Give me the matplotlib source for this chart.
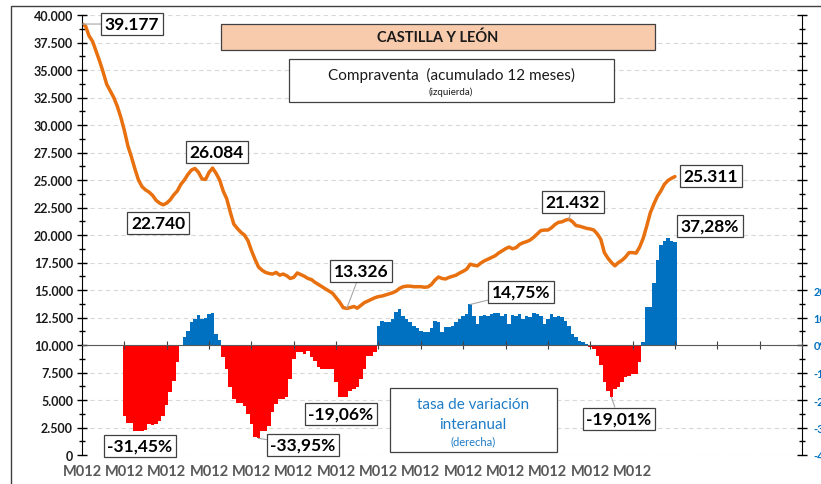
import numpy as np
import matplotlib
matplotlib.use("Agg")
import matplotlib.pyplot as plt
from matplotlib.patches import Rectangle

plt.rcParams['font.family'] = ['Lato', 'DejaVu Sans']

W, H = 821, 485

# compraventa acumulado 12 meses, un valor por mes
compraventa = [
    39177, 39000, 38100, 37600, 36700, 35800, 34800, 33700, 33100, 32500,
    31700, 30700, 29500, 28100, 27100, 26000, 25000, 24400, 24100, 23900,
    23600, 23150, 22900, 22740, 22900, 23200, 23650, 24000, 24600, 25000,
    25500, 25900, 26050, 25700, 25100, 25050, 25700, 26084, 25600, 25000,
    24000, 23300, 22100, 21000, 20600, 20250, 20000, 19500, 18600, 17800,
    17100, 16800, 16600, 16500, 16450, 16600, 16350, 16450, 16300, 16050,
    16150, 16550, 16400, 16250, 16050, 15950, 15700, 15500, 15300, 15100,
    14900, 14700, 14300, 13900, 13400, 13326, 13400, 13500, 13350, 13600,
    13850, 14000, 14150, 14300, 14400, 14450, 14550, 14650, 14750, 14900,
    15150, 15300, 15350, 15350, 15300, 15300, 15300, 15250, 15280, 15500,
    15900, 16180, 16050, 16000, 16150, 16250, 16350, 16550, 16700, 16900,
    17350, 17250, 17200, 17450, 17650, 17800, 17950, 18100, 18350, 18550,
    18750, 18900, 18750, 18850, 19150, 19300, 19400, 19550, 19800, 20100,
    20400, 20450, 20450, 20650, 20950, 21150, 21200, 21350, 21432, 21200,
    20850, 20800, 20700, 20600, 20550, 20450, 20100, 19600, 18400, 17900,
    17500, 17200, 17500, 17700, 18000, 18400, 18400, 18350, 18900, 19700,
    20800, 22000, 22800, 23500, 24000, 24600, 24950, 25150, 25311,
]

# tasa de variacion interanual (%), empieza en el mes 12
primer_mes_tasa = 12
tasa = [
    -25.7, -28.3, -28.3, -31.45, -31.3, -31.1, -30.9, -28.7, -29.1, -28.9,
    -27.6, -25.8, -21.7, -17.0, -13.0, -6.1, -0.4,
    2.8, 5.2, 8.2, 9.5, 10.9, 9.5, 10.0, 11.3, 11.6, 4.0, 1.9,
    -4.5, -8.7, -15.3, -19.6, -21.1, -21.1, -22.0, -25.1, -28.7, -33.6,
    -33.95, -31.2, -31.2, -29.3, -24.5, -21.5, -19.6, -19.6, -19.0, -12.4,
    -5.1, -2.4, -2.4, -3.3, -2.1, -4.5, -5.7, -8.1, -8.7, -8.7,
    -8.7, -8.7, -13.6, -19.06, -19.0, -18.8, -16.6, -16.0, -15.3, -12.4,
    -8.7, -3.9, -3.9, -2.7,
    7.0, 8.8, 8.5, 8.2, 9.5, 12.1, 13.1, 10.7, 9.5, 8.2,
    7.0, 6.1, 5.2, 4.8, 4.6, 6.1, 8.8, 8.2, 4.6, 6.4,
    6.4, 7.0, 8.2, 9.5, 10.7, 11.3, 14.75, 10.7, 7.6, 10.7,
    10.9, 10.7, 11.3, 11.6, 11.6, 10.7, 11.3, 7.6, 10.9, 10.7,
    11.3, 9.5, 10.7, 10.1, 11.6, 11.3, 10.7, 7.6, 9.5, 11.3,
    10.1, 10.7, 10.1, 8.8, 7.0, 4.0, 2.8, 1.6, 1.0, 0.4,
    -0.7, -1.5, -3.9, -7.3, -13.6, -16.6, -19.01, -16.0, -15.4, -13.5,
    -11.8, -11.2, -10.5, -10.5, -6.3,
    1.2, 13.7, 13.7, 22.5, 31.0, 36.4, 37.9, 38.9, 38.0, 37.28,
]

etiquetas_x = ['M012'] * 14
yticks_izq = list(range(0, 40001, 2500))
yticks_der = list(range(-40, 121, 10))

# etiquetas destacadas: texto, mes, centro de la caja (px desde arriba), linea guia
etq_linea = [
    ('39.177', 0, (132, 25), True),
    ('22.740', 23, (158, 224), False),
    ('26.084', 37, (217, 153), False),
    ('13.326', 75, (361, 272), True),
    ('21.432', 138, (573, 203), True),
    ('25.311', 168, (711, 177), False),
]
etq_barras = [
    ('14,75%', 110, (521, 293), True),
    ('37,28%', 168, (710, 227), False),
    ('-31,45%', 15, (140, 447), False),
    ('-33,95%', 50, (303, 446), True),
    ('-19,06%', 73, (341, 415), False),
    ('-19,01%', 150, (619, 420), True),
]

fig = plt.figure(figsize=(W / 100, H / 100), dpi=100)
ax = fig.add_axes([82 / W, 1 - 456 / H, (802 - 82) / W, (456 - 16) / H])
ax2 = ax.twinx()
ax.set_zorder(ax2.get_zorder() + 1)
ax.patch.set_visible(False)

meses = np.arange(len(compraventa))
meses_tasa = np.arange(primer_mes_tasa, primer_mes_tasa + len(tasa))
tasa_arr = np.array(tasa)
colores = np.where(tasa_arr >= 0, '#0070C0', '#FF0000')

ax2.bar(meses_tasa, tasa_arr, width=1.0, color=colores, linewidth=0)
ax.plot(meses, compraventa, color='#E8700E', lw=2.5, solid_joinstyle='round',
        solid_capstyle='round')

ax.set_xlim(0, 203.4)
ax.set_ylim(0, 40000)
ax2.set_ylim(-40, 120)

# eje izquierdo
ax.set_yticks(yticks_izq, ['0' if v == 0 else f'{v:,}'.replace(',', '.') for v in yticks_izq],
              fontweight='bold', color='#1a1a1a', fontsize=9)
ax.set_yticks(np.arange(0, 40001, 1250), minor=True)
ax.tick_params(axis='y', which='major', direction='inout', length=7, width=1, pad=3)
ax.tick_params(axis='y', which='minor', direction='inout', length=5, width=1)

# eje de categorias en el 0 %
ax.spines['bottom'].set_position(('data', 10000))
ax.spines['bottom'].set_color('#595959')
ax.set_xticks(np.arange(0, 205, 12))
ax.tick_params(axis='x', direction='inout', length=6, color='#404040', labelbottom=False)
for s in ['top', 'right']:
    ax.spines[s].set_visible(False)
ax.spines['left'].set_color('#000000')

sec = ax.secondary_xaxis('bottom')
sec.set_xticks(np.arange(0, 12 * len(etiquetas_x), 12), etiquetas_x,
               fontweight='bold', color='#595959', fontsize=10.5)
sec.tick_params(length=0, pad=6.5)
sec.spines['bottom'].set_visible(False)

# eje derecho
ax2.set_yticks(yticks_der, [f'{v}%' if v <= 20 else '' for v in yticks_der],
               fontweight='bold', fontsize=8)
ax2.set_yticks(np.arange(-40, 121, 5), minor=True)
ax2.tick_params(axis='y', which='major', direction='inout', length=7, width=1,
                labelcolor='#0070C0', pad=5)
ax2.tick_params(axis='y', which='minor', direction='inout', length=5, width=1)
for s in ['top', 'bottom', 'left']:
    ax2.spines[s].set_visible(False)
ax2.spines['right'].set_color('#000000')
ax2.yaxis.grid(True, which='major', color='#D9D9D9', ls=(0, (4, 3)), lw=0.8)
ax2.set_axisbelow(True)

# etiquetas de valores
caja = dict(boxstyle='square,pad=0.2', fc='white', ec='#404040', lw=0.9)
guia = dict(arrowstyle='-', color='#A6A6A6', lw=0.8, shrinkA=0, shrinkB=0)
for txt, m, (px, py), linea in etq_linea:
    ax.annotate(txt, xy=(m, compraventa[m]), xytext=(px, H - py), textcoords='figure pixels',
                ha='center', va='center', fontsize=12.5, fontweight='bold', bbox=caja,
                arrowprops=guia if linea else None, zorder=5)
for txt, m, (px, py), linea in etq_barras:
    ax.annotate(txt, xy=(m, tasa[m - primer_mes_tasa]), xycoords=ax2.transData,
                xytext=(px, H - py), textcoords='figure pixels',
                ha='center', va='center', fontsize=12.5, fontweight='bold', bbox=caja,
                arrowprops=guia if linea else None, zorder=5)


def caja_fig(x0, y0, x1, y1, fc):
    fig.patches.append(Rectangle((x0 / W, 1 - y1 / H), (x1 - x0) / W, (y1 - y0) / H,
                                 transform=fig.transFigure, fc=fc, ec='#404040', lw=0.9))


caja_fig(221, 25, 655, 51, '#F8CBAD')
fig.text(438 / W, 1 - 38 / H, 'CASTILLA Y LEÓN', ha='center', va='center',
         fontsize=10.5, fontweight='bold', color='#1a1a1a')

caja_fig(289, 60, 614, 103, 'white')
fig.text(451 / W, 1 - 75 / H, 'Compraventa  (acumulado 12 meses)', ha='center', va='center',
         fontsize=11, color='#1a1a1a')
fig.text(451 / W, 1 - 92 / H, '(izquierda)', ha='center', va='center', fontsize=7,
         color='#1a1a1a')

caja_fig(390, 389, 557, 453, 'white')
azul_txt = '#1F7CC7'
fig.text(473 / W, 1 - 405 / H, 'tasa de variación', ha='center', va='center', fontsize=11,
         color=azul_txt)
fig.text(473 / W, 1 - 425 / H, 'interanual', ha='center', va='center', fontsize=11,
         color=azul_txt)
fig.text(473 / W, 1 - 442 / H, '(derecha)', ha='center', va='center', fontsize=8,
         color=azul_txt)

# marco del grafico
fig.patches.append(Rectangle((11 / W, -0.5), 2, 1 - 7 / H + 0.5, transform=fig.transFigure,
                             fill=False, ec='#404040', lw=1))

fig.savefig('out.png', dpi=100)
